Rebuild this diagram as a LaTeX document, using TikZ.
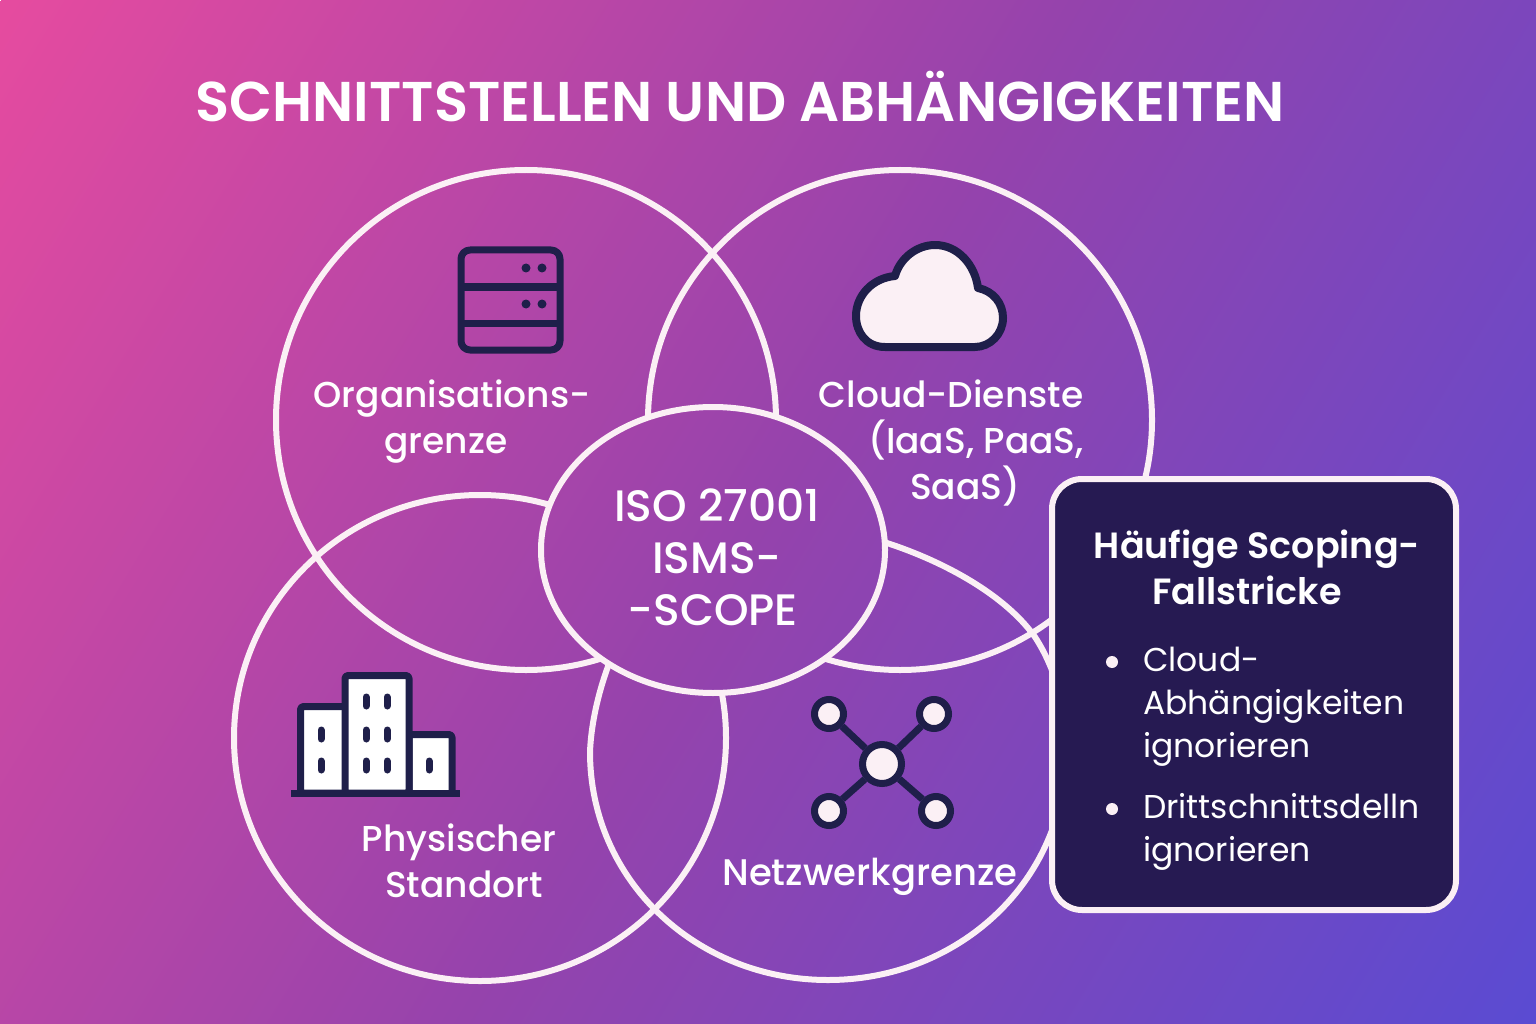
\documentclass[tikz,border=0pt]{standalone}
\usepackage{fontspec}
\setmainfont{Poppins}
\newfontfamily\medfont{Poppins Medium}
\newfontfamily\semifont{Poppins SemiBold}
\usetikzlibrary{shapes.geometric, positioning}
\definecolor{ringWhite}{RGB}{251, 240, 245}
\definecolor{iconNavy}{RGB}{31, 31, 74}
\definecolor{boxNavy}{RGB}{38, 26, 82}
\pgfdeclarehorizontalshading{bgShade}{2400pt}{rgb(0pt)=(0.902,0.294,0.624); rgb(922pt)=(0.584,0.263,0.675); rgb(1844pt)=(0.353,0.294,0.824)}
\newcommand{\bgpaint}{\node [rotate=-31, inner sep=0pt] at (768,512) {\pgfuseshading{bgShade}};}
\tikzset{
    % Venn rings
    ring/.style={draw=ringWhite, line width=6pt, ellipse, inner sep=0pt},
    ringLine/.style={draw=ringWhite, line width=6pt},
    % Text styles
    titleText/.style={font=\semifont\fontsize{56}{60}\selectfont, text=white, inner sep=0pt},
    areaLabel/.style={font=\medfont\fontsize{36}{46}\selectfont, text=white, align=center, inner sep=0pt},
    scopeLabel/.style={font=\medfont\fontsize{44}{52}\selectfont, text=white, align=center, inner sep=0pt},
    boxTitle/.style={font=\semifont\fontsize{36.5}{46}\selectfont, text=white, align=center, inner sep=0pt},
    boxItem/.style={font=\fontsize{33}{43}\selectfont, text=white, align=left, inner sep=0pt, anchor=north west},
    bulletDot/.style={circle, fill=ringWhite, minimum size=12pt, inner sep=0pt},
    % Icon strokes
    iconLine/.style={draw=iconNavy, line width=7pt, line join=round},
    hubDot/.style={circle, draw=iconNavy, fill=ringWhite, line width=7pt, inner sep=0pt},
    windowSlot/.style={draw=iconNavy, line width=7pt, line cap=round}
}
\begin{document}
\begin{tikzpicture}[x=1pt, y=-1pt]

    % --- Background ---
    \useasboundingbox (0,0) rectangle (1536,1024);
    \begin{scope}
        \clip (0,0) rectangle (1536,1024);
        \bgpaint
    \end{scope}

    \node (title) [titleText] at (740,97) {SCHNITTSTELLEN UND ABHÄNGIGKEITEN};

    % --- Venn rings ---
    \node (orgRing) [ring, minimum width=500pt, minimum height=500pt] at (526,420) {};
    \node (cloudRing) [ring, minimum width=504pt, minimum height=500pt] at (900,420) {};
    \node (siteRing) [ring, minimum width=492pt, minimum height=486pt] at (480,738) {};
    \draw [ringLine] (887,543)
        .. controls (945,562) and (1005,595) .. (1035,637)
        .. controls (1055,668) and (1066,705) .. (1066,752)
        .. controls (1066,880) and (960,980) .. (828,980)
        .. controls (696,980) and (590,880) .. (590,752)
        .. controls (592,700) and (615,630) .. (660,570)
        .. controls (710,525) and (820,520) .. (887,543) -- cycle;

    % --- Centre ellipse hides the rings below it ---
    \begin{scope}
        \clip (713,550) ellipse [x radius=172, y radius=143];
        \bgpaint
    \end{scope}
    \node (scope) [ring, minimum width=344pt, minimum height=286pt] at (713,550) {};
    \node (scopeText) [scopeLabel] at (717,557) {ISO 27001\\ISMS-\\-SCOPE\hspace*{8pt}};

    % --- Area labels ---
    \node (orgLabel) [areaLabel] at (452,422) {Organisations-\\grenze\hspace*{12pt}};
    \node (cloudLabel) [areaLabel] at (951,443) {Cloud-Dienste\\\hspace*{50pt}(IaaS, PaaS,\\\hspace*{28pt}SaaS)};
    \node (siteLabel) [areaLabel] at (459,861) {Physischer\\\hspace*{10pt}Standort};
    \node (netLabel) [areaLabel, font=\medfont\fontsize{37}{46}\selectfont] at (870,877) {Netzwerkgrenze};

    % --- Server icon ---
    \draw [iconLine, rounded corners=9pt] (461,250) rectangle (560,350);
    \draw [iconLine] (461,287) -- (560,287);
    \draw [iconLine] (461,323) -- (560,323);
    \foreach \px in {526,542} {
        \foreach \py in {268,304} {
            \fill [iconNavy] (\px,\py) circle (4.5);
        }
    }

    % --- Cloud icon ---
    \draw [iconLine, line width=8pt, fill=ringWhite] (885,347)
        .. controls (866,347) and (856,332) .. (856,316)
        .. controls (856,296) and (872,278) .. (895,276)
        .. controls (900,258) and (917,245) .. (935,245)
        .. controls (958,245) and (975,265) .. (978,288)
        .. controls (993,291) and (1003,303) .. (1003,318)
        .. controls (1003,334) and (990,347) .. (975,347) -- cycle;

    % --- Building icon ---
    \draw [iconLine, fill=white, rounded corners=3pt] (345,793) -- (300.5,793) -- (300.5,706.5) -- (345,706.5);
    \draw [iconLine, fill=white, rounded corners=3pt] (409,793) -- (409,734.5) -- (452,734.5) -- (452,793);
    \draw [iconLine, fill=white, rounded corners=3pt] (345,793) -- (345,675.5) -- (409,675.5) -- (409,793) -- cycle;
    \draw [iconLine, line join=miter] (291,793) -- (460,793);
    \foreach \px in {366,387} {
        \foreach \py in {697,730,761} {
            \draw [windowSlot] (\px,\py) -- ++(0,9);
        }
    }
    \foreach \py in {730,761} {
        \draw [windowSlot] (321,\py) -- ++(0,9);
    }
    \draw [windowSlot] (429,761) -- ++(0,9);

    % --- Network icon ---
    \node (hub) [hubDot, minimum size=39pt] at (882,764) {};
    \node (netA) [hubDot, minimum size=29pt] at (829,714) {};
    \node (netB) [hubDot, minimum size=29pt] at (934,714) {};
    \node (netC) [hubDot, minimum size=29pt] at (829,811) {};
    \node (netD) [hubDot, minimum size=29pt] at (936,811) {};
    \foreach \leaf in {netA,netB,netC,netD} {
        \draw [iconLine] (hub) -- (\leaf);
    }

    % --- Pitfall box ---
    \node (pitfallBox) [draw=ringWhite, fill=boxNavy, line width=6pt, rounded corners=30pt,
        minimum width=404pt, minimum height=431pt, inner sep=0pt] at (1254,694.5) {};
    \node (boxHead) [boxTitle] at (1257,567) {Häufige Scoping-\\Fallstricke\hspace*{20pt}};
    \node (bulletA) [bulletDot] at (1112,662) {};
    \node (itemA) [boxItem] at (1143,647) {Cloud-\\Abhängigkeiten\\ignorieren};
    \node (bulletB) [bulletDot] at (1112,809) {};
    \node (itemB) [boxItem] at (1143,793) {Drittschnittsdelln\\ignorieren};

\end{tikzpicture}
\end{document}
